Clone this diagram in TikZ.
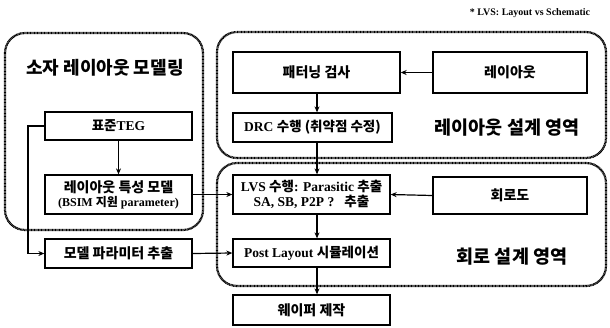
\documentclass[tikz,border=0pt]{standalone}
\usepackage{fontspec}
\setmainfont{Liberation Serif}
\newfontfamily\kr{Noto Sans CJK KR}
\usetikzlibrary{arrows.meta}
\newcommand{\K}[1]{{\kr\bfseries #1}}
\begin{document}
\begin{tikzpicture}[x=1pt,y=-1pt,
  region/.style={line width=2.2pt,dash pattern=on 0.9pt off 0.5pt,rounded corners=20pt},
  box/.style={draw,line width=1.3pt,rectangle,inner sep=0pt,font=\bfseries\fontsize{13.5}{15}\selectfont,align=center},
  conn/.style={line width=1.2pt},
  arr/.style={conn,-{Stealth[length=6pt,width=5pt]}}]
\useasboundingbox (0,0) rectangle (610,327);
% regions
\draw[region] (5,33) rectangle (203,230);
\draw[region] (217,32) rectangle (606,158);
\draw[region] (217,163) rectangle (606,286);
% titles
\node (t1) at (105,68) {\fontsize{18}{20}\selectfont\K{소자 레이아웃 모델링}};
\node (t2) at (507,128) {\fontsize{18.5}{20}\selectfont\K{레이아웃 설계 영역}};
\node (t3) at (512,257) {\fontsize{18.5}{20}\selectfont\K{회로 설계 영역}};
\node (note) at (530,13) {\bfseries\fontsize{10}{12}\selectfont * LVS: Layout vs Schematic};
% boxes
\node[box,minimum width=147pt,minimum height=28pt] (teg) at (118.5,126) {\K{표준}TEG};
\node[box,minimum width=147pt,minimum height=39pt] (lmodel) at (118.5,194.5) {{\fontsize{14}{15}\selectfont\K{레이아웃 특성 모델}}\\[-1pt]{\fontsize{12}{13}\selectfont(BSIM \K{지원} parameter)}};
\node[box,minimum width=147pt,minimum height=29pt] (param) at (118.5,253.5) {\fontsize{14}{15}\selectfont\K{모델 파라미터 추출}};
\node[box,minimum width=167pt,minimum height=41pt] (pat) at (316.5,72.5) {\fontsize{14}{15}\selectfont\K{패터닝 검사}};
\node[box,minimum width=159pt,minimum height=29pt] (drc) at (312.5,127.5) {DRC \K{수행 (취약점 수정)}};
\node[box,minimum width=157pt,minimum height=39pt] (lvs) at (311.5,194.5) {LVS \K{수행}: Parasitic \K{추출}\\[0pt]SA, SB, P2P ?~~~\K{추출}};
\node[box,minimum width=157pt,minimum height=28pt] (post) at (311.5,253) {Post Layout \K{시뮬레이션}};
\node[box,minimum width=157pt,minimum height=30pt] (wafer) at (311.5,310) {\fontsize{14}{15}\selectfont\K{웨이퍼 제작}};
\node[box,minimum width=154pt,minimum height=41pt] (layout) at (510,72.5) {\fontsize{14}{15}\selectfont\K{레이아웃}};
\node[box,minimum width=154pt,minimum height=37pt] (circ) at (510,195.5) {\fontsize{14}{15}\selectfont\K{회로도}};
% connectors
\coordinate (c1) at (317,0);
\draw[arr] (layout.west) -- (pat.east);
\draw[arr] (c1 |- pat.south) -- (c1 |- drc.north);
\draw[arr] (c1 |- drc.south) -- (c1 |- lvs.north);
\draw[arr] (c1 |- lvs.south) -- (c1 |- post.north);
\draw[arr] (c1 |- post.south) -- (c1 |- wafer.north);
\draw[arr] (circ.west) -- (lvs.east);
\draw[arr] (teg.south) -- (lmodel.north);
\coordinate (c2) at (28,0);
\draw[arr] (teg.west) -- (c2 |- teg.west) -- (c2 |- param.west) -- (param.west);
\draw[arr] (lmodel.east) -- (lvs.west);
\draw[arr] (param.east) -- (post.west);
\end{tikzpicture}
\end{document}
